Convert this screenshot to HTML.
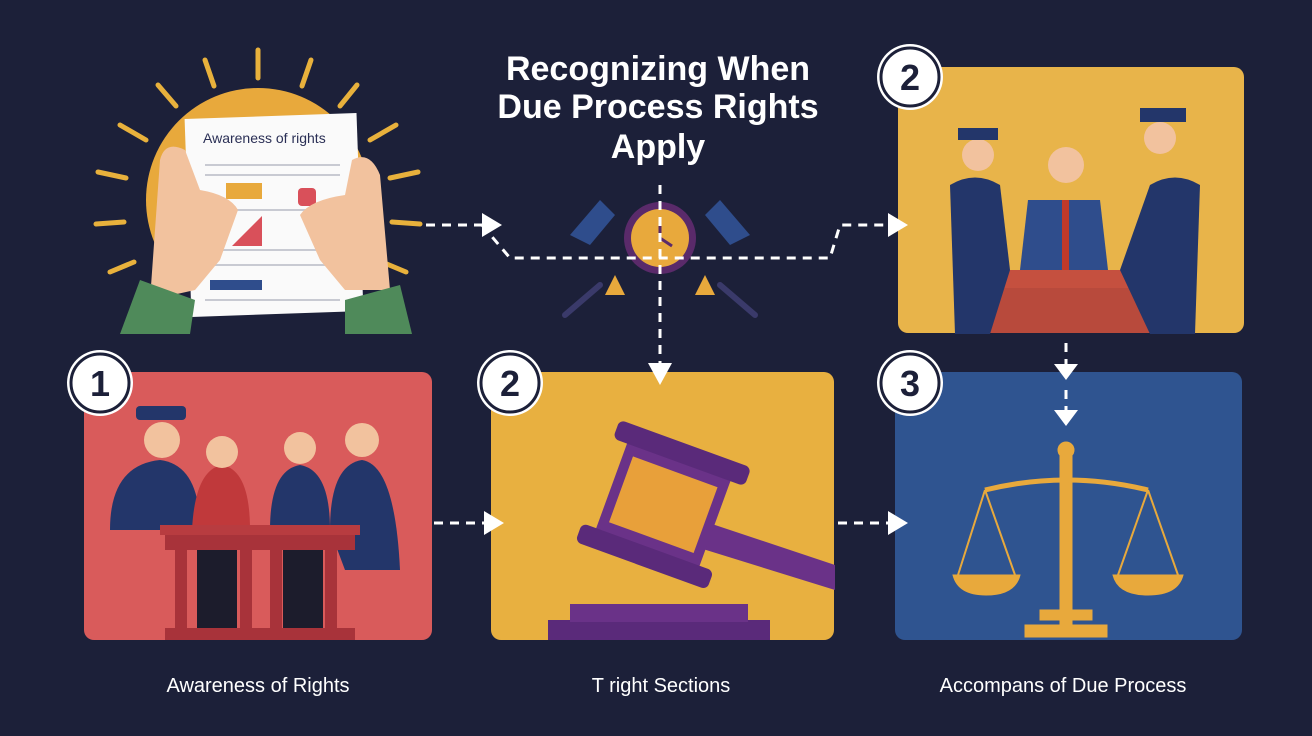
<!DOCTYPE html>
<html><head><meta charset="utf-8"><style>
html,body{margin:0;padding:0;background:#1c2039;}
svg{display:block}
text{font-family:"Liberation Sans",sans-serif;font-weight:bold;fill:#fff}
</style></head><body>
<svg width="1312" height="736" viewBox="0 0 1312 736" xmlns="http://www.w3.org/2000/svg">
<rect width="1312" height="736" fill="#1c2039"/>
<!-- sun -->
<circle cx="258" cy="200" r="112" fill="#e8a93c"/>
<g stroke="#e8b13c" stroke-width="5" stroke-linecap="round">
<line x1="258" y1="50" x2="258" y2="78"/><line x1="205" y1="60" x2="214" y2="86"/><line x1="311" y1="60" x2="302" y2="86"/>
<line x1="158" y1="85" x2="176" y2="106"/><line x1="357" y1="85" x2="340" y2="106"/>
<line x1="120" y1="125" x2="146" y2="140"/><line x1="396" y1="125" x2="370" y2="140"/>
<line x1="98" y1="172" x2="126" y2="178"/><line x1="418" y1="172" x2="390" y2="178"/>
<line x1="96" y1="224" x2="124" y2="222"/><line x1="420" y1="224" x2="392" y2="222"/>
<line x1="110" y1="272" x2="134" y2="262"/><line x1="406" y1="272" x2="382" y2="262"/>
</g>
<!-- paper -->
<rect x="188" y="116" width="172" height="198" fill="#fafafa" transform="rotate(-2 274 215)"/>
<text x="203" y="143" font-size="14" style="font-weight:normal;fill:#2a2f55">Awareness of rights</text>
<g stroke="#c8cad2" stroke-width="2"><line x1="205" y1="165" x2="340" y2="165"/><line x1="205" y1="175" x2="340" y2="175"/><line x1="205" y1="210" x2="340" y2="210"/><line x1="205" y1="250" x2="340" y2="250"/><line x1="205" y1="265" x2="340" y2="265"/><line x1="205" y1="300" x2="340" y2="300"/></g>
<rect x="226" y="183" width="36" height="16" fill="#e8a93c"/><rect x="298" y="188" width="18" height="18" rx="4" fill="#d9505a"/>
<polygon points="232,246 262,246 262,216" fill="#d9505a"/>
<rect x="210" y="280" width="52" height="10" fill="#2f4d8c"/>
<!-- hands -->
<path d="M160 160 Q165 140 185 150 L200 190 Q230 195 238 210 L220 260 L195 290 L150 300 Z" fill="#f2c29e"/>
<path d="M380 175 Q370 150 352 160 L345 195 Q310 200 300 215 L320 260 L345 290 L390 290 Z" fill="#f2c29e"/>
<path d="M140 280 L195 300 L190 334 L120 334 Z" fill="#4f8a5a"/>
<path d="M400 285 L345 300 L345 334 L412 334 Z" fill="#4f8a5a"/>
<!-- title -->
<text x="658" y="80" font-size="34" text-anchor="middle">Recognizing When</text>
<text x="658" y="118" font-size="34" text-anchor="middle">Due Process Rights</text>
<text x="658" y="158" font-size="34" text-anchor="middle">Apply</text>
<!-- center icon -->
<g fill="#2f4d8c"><polygon points="570,235 600,200 615,215 590,245"/><polygon points="750,235 720,200 705,215 730,245"/></g>
<g stroke="#3a3a6a" stroke-width="6" stroke-linecap="round"><line x1="565" y1="315" x2="600" y2="285"/><line x1="755" y1="315" x2="720" y2="285"/></g>
<polygon points="605,295 615,275 625,295" fill="#e8a93c"/><polygon points="695,295 705,275 715,295" fill="#e8a93c"/>
<circle cx="660" cy="238" r="36" fill="#5a2a6a"/><circle cx="660" cy="238" r="29" fill="#e8a93c"/>
<line x1="660" y1="238" x2="660" y2="218" stroke="#5a2a6a" stroke-width="3"/><line x1="660" y1="238" x2="672" y2="246" stroke="#5a2a6a" stroke-width="3"/>
<!-- top right panel -->
<rect x="898" y="67" width="346" height="266" rx="10" fill="#e8b44a"/>
<rect x="980" y="275" width="178" height="58" fill="#b84a3c"/><rect x="975" y="270" width="188" height="18" fill="#c5503f"/>
<path d="M1020 270 L1028 200 L1100 200 L1108 270 Z" fill="#2f4d8c"/><circle cx="1066" cy="165" r="18" fill="#f2c29e"/><rect x="1062" y="200" width="7" height="70" fill="#c0392b"/>
<path d="M955 334 L950 185 Q975 170 1000 185 L1010 270 L990 334 Z" fill="#23366a"/><circle cx="978" cy="155" r="16" fill="#f2c29e"/><rect x="958" y="128" width="40" height="12" fill="#23366a"/>
<path d="M1195 334 L1200 185 Q1175 170 1150 185 L1120 270 L1150 334 Z" fill="#23366a"/><circle cx="1160" cy="138" r="16" fill="#f2c29e"/><rect x="1140" y="108" width="46" height="14" fill="#23366a"/>
<circle cx="910" cy="77" r="33" fill="#fff"/><circle cx="910" cy="77" r="29" fill="#fff" stroke="#1c2039" stroke-width="3"/>
<text x="910" y="90" font-size="36" text-anchor="middle" style="fill:#1c2039">2</text>
<!-- panel 1 -->
<rect x="84" y="372" width="348" height="268" rx="10" fill="#d95b5b"/>
<g fill="#23366a"><path d="M110 530 Q110 465 160 460 Q200 465 200 530 Z"/><path d="M270 530 Q270 470 300 465 Q330 470 330 530 Z"/><path d="M330 530 Q330 465 362 460 Q395 465 400 570 L345 570 Z"/></g>
<path d="M192 530 Q195 470 222 465 Q250 470 250 530 Z" fill="#c0393b"/>
<g fill="#f2c29e"><circle cx="162" cy="440" r="18"/><circle cx="222" cy="452" r="16"/><circle cx="300" cy="448" r="16"/><circle cx="362" cy="440" r="17"/></g>
<rect x="136" y="406" width="50" height="14" rx="4" fill="#23366a"/>
<rect x="165" y="530" width="190" height="20" fill="#a8333a"/><rect x="160" y="525" width="200" height="10" fill="#b83c40"/>
<g fill="#a8333a"><rect x="175" y="550" width="12" height="78"/><rect x="240" y="550" width="12" height="78"/><rect x="270" y="550" width="12" height="78"/><rect x="325" y="550" width="12" height="78"/></g>
<g fill="#1c1c2c"><rect x="197" y="550" width="40" height="78"/><rect x="283" y="550" width="40" height="78"/></g>
<rect x="165" y="628" width="190" height="12" fill="#a8333a"/>
<circle cx="100" cy="383" r="33" fill="#fff"/><circle cx="100" cy="383" r="29" fill="#fff" stroke="#1c2039" stroke-width="3"/>
<text x="100" y="396" font-size="36" text-anchor="middle" style="fill:#1c2039">1</text>
<!-- panel 2 -->
<rect x="491" y="372" width="343" height="268" rx="10" fill="#e8b040"/>
<rect x="548" y="620" width="222" height="20" fill="#5a2a7a"/><rect x="570" y="604" width="178" height="18" fill="#6a3288"/>
<polygon points="700,520 835,565 835,590 690,545" fill="#6a3288"/>
<g transform="rotate(20 665 500)"><rect x="610" y="450" width="110" height="110" rx="8" fill="#6a3288"/><rect x="620" y="470" width="90" height="70" fill="#e8a03a"/><rect x="595" y="440" width="140" height="20" rx="6" fill="#5a2a7a"/><rect x="595" y="550" width="140" height="20" rx="6" fill="#5a2a7a"/></g>
<circle cx="510" cy="383" r="33" fill="#fff"/><circle cx="510" cy="383" r="29" fill="#fff" stroke="#1c2039" stroke-width="3"/>
<text x="510" y="396" font-size="36" text-anchor="middle" style="fill:#1c2039">2</text>
<!-- panel 3 -->
<rect x="895" y="372" width="347" height="268" rx="10" fill="#2f5490"/>
<g fill="#e8a93c" stroke="#e8a93c">
<rect x="1060" y="455" width="12" height="170"/><circle cx="1066" cy="450" r="8"/>
<path d="M985 490 Q1066 470 1148 490" fill="none" stroke-width="5"/>
<line x1="985" y1="490" x2="958" y2="575" stroke-width="2"/><line x1="985" y1="490" x2="1015" y2="575" stroke-width="2"/>
<line x1="1148" y1="490" x2="1118" y2="575" stroke-width="2"/><line x1="1148" y1="490" x2="1178" y2="575" stroke-width="2"/>
<path d="M953 575 L1020 575 Q1015 595 986 595 Q958 595 953 575Z"/><path d="M1113 575 L1183 575 Q1178 595 1148 595 Q1118 595 1113 575Z"/>
<rect x="1040" y="610" width="52" height="10"/><rect x="1025" y="625" width="82" height="12"/>
</g>
<circle cx="910" cy="383" r="33" fill="#fff"/><circle cx="910" cy="383" r="29" fill="#fff" stroke="#1c2039" stroke-width="3"/>
<text x="910" y="396" font-size="36" text-anchor="middle" style="fill:#1c2039">3</text>
<!-- dashed connectors (on top) -->
<g stroke="#fff" stroke-width="3" fill="none" stroke-dasharray="9 7">
<line x1="426" y1="225" x2="488" y2="225"/>
<polyline points="482,225 510,258 830,258 840,225 890,225"/>
<line x1="660" y1="185" x2="660" y2="365"/>
<line x1="434" y1="523" x2="490" y2="523"/>
<line x1="838" y1="523" x2="893" y2="523"/>
<line x1="1066" y1="343" x2="1066" y2="368"/>
<line x1="1066" y1="390" x2="1066" y2="414"/>
</g>
<g fill="#fff">
<polygon points="482,213 502,225 482,237"/><polygon points="888,213 908,225 888,237"/>
<polygon points="648,363 660,385 672,363"/>
<polygon points="484,511 504,523 484,535"/><polygon points="888,511 908,523 888,535"/>
<polygon points="1054,364 1066,380 1078,364"/><polygon points="1054,410 1066,426 1078,410"/>
</g>
<!-- labels -->
<text x="258" y="692" font-size="20" text-anchor="middle" style="font-weight:normal">Awareness of Rights</text>
<text x="661" y="692" font-size="20" text-anchor="middle" style="font-weight:normal">T right Sections</text>
<text x="1063" y="692" font-size="20" text-anchor="middle" style="font-weight:normal">Accompans of Due Process</text>
</svg>
</body></html>
